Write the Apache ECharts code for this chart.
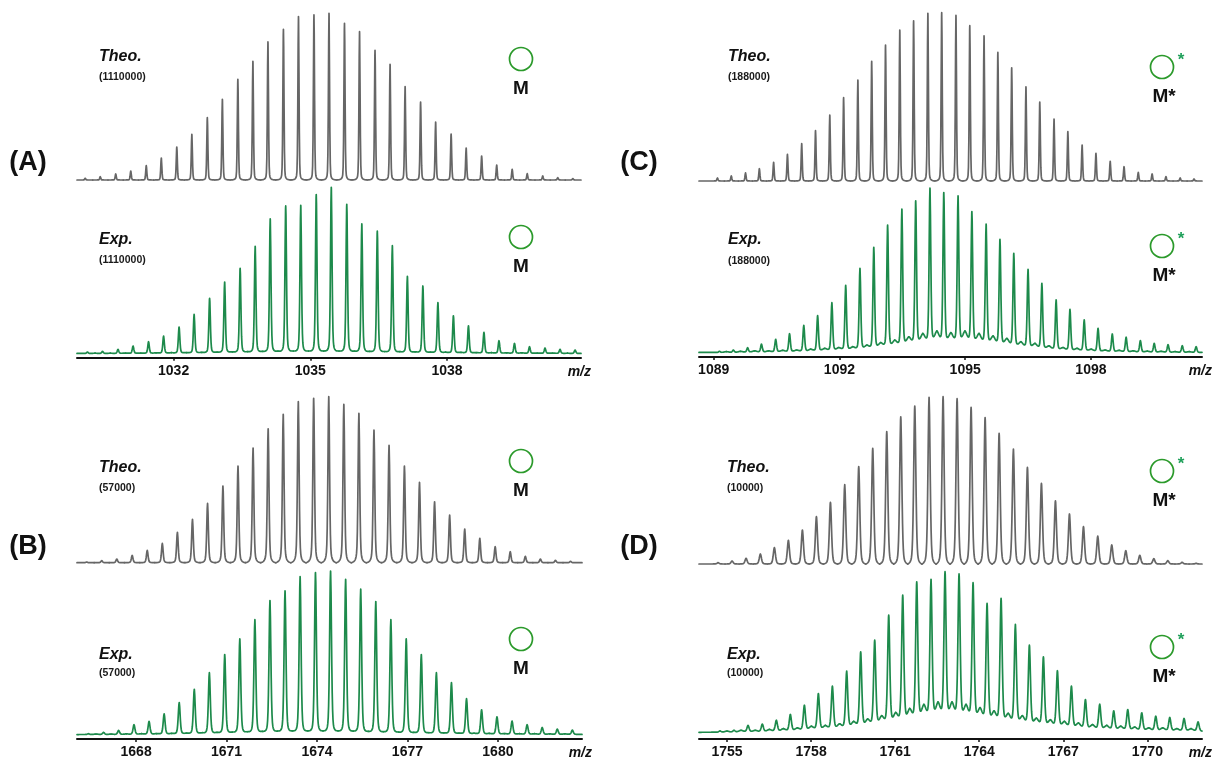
<!DOCTYPE html>
<html><head><meta charset="utf-8">
<script src="https://cdn.jsdelivr.net/npm/echarts@6/dist/echarts.min.js"></script>
<style>html,body{margin:0;padding:0;background:#fff}#c{width:1213px;height:760px}</style>
</head><body><div id="c"></div>
<script>
// ---------------- DATA ----------------
// Panel A (z = 3)
const rangeA = [1029.88, 1040.94];
const ticksA = [1032, 1035, 1038];
const mzTheoA = [1030.06,1030.39,1030.73,1031.06,1031.40,1031.73,1032.07,1032.40,1032.74,1033.07,1033.41,1033.74,1034.07,1034.41,1034.74,1035.08,1035.41,1035.75,1036.08,1036.42,1036.75,1037.08,1037.42,1037.75,1038.09,1038.42,1038.76,1039.09,1039.43,1039.76,1040.10,1040.43,1040.76];
const intTheoA = [1.0,2.0,3.6,5.4,8.6,13.2,19.8,27.4,37.4,48.4,60.4,71.2,82.8,90.4,98.0,99.0,100,94.0,89.0,77.8,69.4,56.0,46.8,34.8,27.6,19.2,14.4,9.0,6.4,3.8,2.4,1.4,0.8];
const mzExpA = [1030.11,1030.44,1030.78,1031.11,1031.45,1031.78,1032.12,1032.45,1032.79,1033.12,1033.46,1033.79,1034.12,1034.46,1034.79,1035.13,1035.46,1035.80,1036.13,1036.47,1036.80,1037.13,1037.47,1037.80,1038.14,1038.47,1038.81,1039.14,1039.48,1039.81,1040.15,1040.48,1040.81];
const intExpA = [1.0,1.4,2.6,4.6,7.2,10.6,16.0,23.6,33.3,43.1,51.3,64.5,81.0,88.8,89.2,95.6,100,89.8,78.0,73.7,64.9,46.5,40.7,30.7,22.8,16.8,12.8,7.8,6.2,4.2,3.4,2.6,2.2];
const bgExpA = [0.3,0.3,0.4,0.4,0.5,0.6,0.7,0.8,1.0,1.1,1.2,1.4,1.5,1.6,1.6,1.6,1.6,1.5,1.4,1.3,1.2,1.1,1.0,0.9,0.8,0.7,0.6,0.5,0.5,0.4,0.4,0.3];

// Panel B (z = 2)
const rangeB = [1666.04, 1682.79];
const ticksB = [1668, 1671, 1674, 1677, 1680];
const mzTheoB = [1666.36,1666.86,1667.36,1667.87,1668.37,1668.87,1669.37,1669.87,1670.37,1670.88,1671.38,1671.88,1672.38,1672.88,1673.38,1673.89,1674.39,1674.89,1675.39,1675.89,1676.39,1676.90,1677.40,1677.90,1678.40,1678.90,1679.40,1679.91,1680.41,1680.91,1681.41,1681.91,1682.41];
const intTheoB = [0.4,1.2,2.2,4.4,7.4,11.6,18.3,26.1,35.7,46.2,58.2,69.1,80.7,89.4,97.0,99.0,100,95.4,90.0,79.9,70.7,58.2,48.4,36.7,28.7,20.3,14.7,9.6,6.6,3.8,2.2,1.4,0.8];
const mzExpB = [1666.42,1666.92,1667.42,1667.93,1668.43,1668.93,1669.43,1669.93,1670.43,1670.94,1671.44,1671.94,1672.44,1672.94,1673.44,1673.95,1674.45,1674.95,1675.45,1675.95,1676.45,1676.96,1677.46,1677.96,1678.46,1678.96,1679.46,1679.97,1680.47,1680.97,1681.47,1681.97,1682.47];
const intExpB = [0.8,1.6,2.8,6.3,8.3,12.9,19.8,27.9,38.0,49.1,58.6,70.3,82.0,87.9,96.6,99.0,100,94.9,88.9,81.4,70.3,58.6,49.1,38.0,31.9,22.2,15.4,11.1,8.5,6.3,4.6,3.6,3.0];
const bgExpB = [0.6,0.6,0.7,0.8,0.9,1.0,1.2,1.4,1.6,1.8,2.0,2.2,2.4,2.5,2.5,2.5,2.5,2.4,2.2,2.0,1.8,1.6,1.4,1.3,1.2,1.1,1.0,0.9,0.8,0.8,0.7,0.7];

// Panel C (z = 3)
const rangeC = [1088.65, 1100.65];
const ticksC = [1089, 1092, 1095, 1098];
const mzTheoC = [1089.09,1089.42,1089.76,1090.09,1090.43,1090.76,1091.10,1091.43,1091.77,1092.10,1092.44,1092.77,1093.10,1093.44,1093.77,1094.11,1094.44,1094.78,1095.11,1095.45,1095.78,1096.11,1096.45,1096.78,1097.12,1097.45,1097.79,1098.12,1098.46,1098.79,1099.13,1099.46,1099.79,1100.13,1100.46];
const intTheoC = [1.8,3.0,4.8,7.3,11.1,15.8,22.2,29.9,39.2,49.5,60.0,71.1,80.8,89.7,95.2,99.6,100,98.4,92.3,86.3,76.4,67.3,56.0,46.9,36.8,29.3,21.4,16.4,11.7,8.5,5.1,4.2,2.6,1.8,1.2];
const mzExpC = [1089.14,1089.47,1089.81,1090.14,1090.48,1090.81,1091.15,1091.48,1091.82,1092.15,1092.49,1092.82,1093.15,1093.49,1093.82,1094.16,1094.49,1094.83,1095.16,1095.50,1095.83,1096.16,1096.50,1096.83,1097.17,1097.50,1097.84,1098.17,1098.51,1098.84,1099.18,1099.51,1099.84,1100.18,1100.51];
const intExpC = [1.2,2.0,3.4,5.6,8.5,11.9,16.9,22.8,30.6,41.1,51.4,64.1,77.6,87.3,92.3,100,97.2,95.2,85.7,78.2,69.0,60.5,50.8,42.3,32.3,26.6,20.2,15.1,11.7,9.7,7.7,6.0,5.2,4.6,4.0];
const bgExpC = [1.0,1.2,1.5,1.5,1.8,2.0,2.5,3.0,3.5,4.0,5.0,6.5,8.0,10.0,12.0,13.5,12.5,13.5,12.0,10.5,9.0,7.0,6.0,4.5,3.5,3.0,2.5,2.0,1.8,1.5,1.3,1.2,1.0,1.0];

// Panel D (z = 2)
const rangeD = [1754.0, 1771.95];
const ticksD = [1755, 1758, 1761, 1764, 1767, 1770];
const mzTheoD = [1754.68,1755.18,1755.68,1756.19,1756.69,1757.19,1757.69,1758.19,1758.69,1759.20,1759.70,1760.20,1760.70,1761.20,1761.70,1762.21,1762.71,1763.21,1763.71,1764.21,1764.71,1765.22,1765.72,1766.22,1766.72,1767.22,1767.72,1768.23,1768.73,1769.23,1769.73,1770.23,1770.73,1771.24,1771.74];
const intTheoD = [0.8,1.8,3.4,6.0,9.8,14.1,20.3,28.3,36.9,47.4,58.2,69.1,79.1,88.0,94.4,99.6,100,98.8,93.6,87.5,78.1,68.7,57.8,48.2,37.8,29.9,22.3,16.7,11.4,8.0,5.2,3.2,2.0,1.0,0.4];
const mzExpD = [1754.75,1755.25,1755.75,1756.26,1756.76,1757.26,1757.76,1758.26,1758.76,1759.27,1759.77,1760.27,1760.77,1761.27,1761.77,1762.28,1762.78,1763.28,1763.78,1764.28,1764.78,1765.29,1765.79,1766.29,1766.79,1767.29,1767.79,1768.30,1768.80,1769.30,1769.80,1770.30,1770.80,1771.31,1771.81];
const intExpD = [1.6,2.0,5.0,5.8,8.2,11.8,17.5,24.7,29.3,38.6,50.5,57.7,73.2,85.6,93.8,95.3,100,98.6,93.2,80.4,83.5,67.4,54.6,47.4,38.8,29.3,21.0,18.1,14.0,14.8,12.8,10.7,9.9,9.3,7.2];
const bgExpD = [1.5,2.0,2.0,2.5,3.0,3.5,4.5,5.0,6.0,7.5,9.0,11.0,13.0,15.5,18.0,19.5,19.5,18.0,16.0,14.0,12.5,11.0,9.5,8.5,7.5,6.5,5.5,5.0,4.5,4.0,3.5,3.5,3.0,3.0];

// Text labels
const panelLetters = {A:'(A)', B:'(B)', C:'(C)', D:'(D)'};
const resolutions = {A:'(1110000)', B:'(57000)', C:'(188000)', D:'(10000)'};
const speciesLabel = {A:'M', B:'M', C:'M*', D:'M*'};
const traceNames = {theo:'Theo.', exp:'Exp.'};
const axisName = 'm/z';

// ---------------- LAYOUT / STYLE ----------------
const FONT = "'Liberation Sans', Arial, Helvetica, sans-serif";
const GRAY = '#666666';
const GREEN = '#1d8a4b';
const RING = '#2b9a2b';
const STAR = '#1fa05a';
const INK = '#111111';

const layout = {
  A: {left:77, width:504, theo:{top:13.3, base:180}, exp:{top:187.3, base:353.7, axis:357.7},
      letter:[28,163], textX:99, ring:[521,59,237], star:false, sub:{theo:[57,77], exp:[240,260]}},
  B: {left:77, width:505, theo:{top:396.7, base:562.7}, exp:{top:571, base:736, axis:740},
      letter:[28,547], textX:99, ring:[521,461,639], star:false, sub:{theo:[468,488], exp:[655,673]}},
  C: {left:699, width:503, theo:{top:12.7, base:181}, exp:{top:188, base:353.3, axis:357},
      letter:[639,163], textX:728, ring:[1162,67,246], star:true, sub:{theo:[57,77], exp:[240,261]}},
  D: {left:699, width:503, theo:{top:396.7, base:564}, exp:{top:571.7, base:733.5, axis:739},
      letter:[639,547], textX:727, ring:[1162,471,647], star:true, sub:{theo:[468,488], exp:[655,673]}}
};

// peak shape (pixels): gaussian sigma, lorentz gamma, lorentz fraction
const shapes = {
  A: {theo:[0.55, 0.6, 0.3], exp:[0.75, 0.9, 0.35]},
  B: {theo:[0.8, 1.0, 0.4],  exp:[0.95, 1.1, 0.4]},
  C: {theo:[0.55, 0.6, 0.3], exp:[0.85, 0.9, 0.35]},
  D: {theo:[1.1, 1.2, 0.4],  exp:[1.1, 1.2, 0.4]}
};

const spectra = {
  A: {range:rangeA, ticks:ticksA, theo:[mzTheoA,intTheoA,null], exp:[mzExpA,intExpA,bgExpA]},
  B: {range:rangeB, ticks:ticksB, theo:[mzTheoB,intTheoB,null], exp:[mzExpB,intExpB,bgExpB]},
  C: {range:rangeC, ticks:ticksC, theo:[mzTheoC,intTheoC,null], exp:[mzExpC,intExpC,bgExpC]},
  D: {range:rangeD, ticks:ticksD, theo:[mzTheoD,intTheoD,null], exp:[mzExpD,intExpD,bgExpD]}
};

// Build custom-series items from the peak arrays
function buildItems(mz, inten, bg, range) {
  const out = [];
  const n = mz.length;
  for (let i = 0; i < n; i++) {
    const le = i === 0 ? range[0] : (mz[i-1] + mz[i]) / 2;
    const re = i === n - 1 ? range[1] : (mz[i] + mz[i+1]) / 2;
    let vl = 0, vr = 0;
    if (bg) {
      vl = i === 0 ? bg[0] * 0.5 : bg[i-1];
      vr = i === n - 1 ? bg[bg.length-1] * 0.5 : bg[i];
    }
    out.push([mz[i], inten[i], le, re, vl, vr, i === 0 ? 1 : 0, i === n - 1 ? 1 : 0]);
  }
  return out;
}

function makeRender(shape, color, lw) {
  const sig = shape[0], gam = shape[1], eta = shape[2];
  const F = 0.55, bumpW = 2.2;
  const prof = function (dx) {
    const d = dx / sig, l = dx / gam;
    return (1 - eta) * Math.exp(-0.5 * d * d) + eta / (1 + l * l);
  };
  return function (params, api) {
    const mz = api.value(0), h = api.value(1), le = api.value(2), re = api.value(3);
    const vl = api.value(4), vr = api.value(5), fL = api.value(6), fR = api.value(7);
    const p0 = api.coord([mz, 0]);
    const cx = p0[0], y0 = p0[1];
    const k = api.size([0, 1])[1];
    const xl = api.coord([le, 0])[0], xr = api.coord([re, 0])[0];
    const gL = prof(xl - cx), gR = prof(xr - cx);
    const xs = [];
    for (let x = xl; x < xr; x += 0.4) xs.push(x);
    xs.push(xr); xs.push(cx);
    xs.sort((a, b) => a - b);
    const pts = [];
    for (const x of xs) {
      const bl = fL ? vl : vl * (F + (1 - F) * Math.exp(-0.5 * Math.pow((x - xl) / bumpW, 2)));
      const br = fR ? vr : vr * (F + (1 - F) * Math.exp(-0.5 * Math.pow((x - xr) / bumpW, 2)));
      const t = (xr - xl) > 0 ? (x - xl) / (xr - xl) : 0;
      const b = (1 - t) * bl + t * br;
      const gE = x < cx ? gL : gR;
      let g = (prof(x - cx) - gE) / (1 - gE);
      if (g < 0) g = 0;
      const v = b * (1 - g) + h * g;
      pts.push([x, y0 - v * k]);
    }
    return {type:'polyline', silent:true, shape:{points:pts},
            style:{stroke:color, lineWidth:lw, fill:null, lineJoin:'round', lineCap:'round'}};
  };
}

const grids = [], xAxes = [], yAxes = [], series = [], graphics = [];
let gi = 0;
['A','B','C','D'].forEach(function (key) {
  const L = layout[key], S = spectra[key];
  ['theo','exp'].forEach(function (kind) {
    const g = L[kind];
    let top = g.top, height, ymin;
    if (kind === 'theo') { height = g.base - g.top; ymin = 0; }
    else { height = g.axis - g.top; ymin = -(g.axis - g.base) / (g.base - g.top) * 100; }
    grids.push({left:L.left, width:L.width, top:top, height:height, containLabel:false});
    const xa = {gridIndex:gi, type:'value', min:S.range[0], max:S.range[1], splitLine:{show:false}};
    if (kind === 'theo') {
      xa.show = false;
    } else {
      Object.assign(xa, {
        axisLine:{show:true, onZero:false, lineStyle:{color:INK, width:2}},
        axisTick:{show:true, length:3, customValues:S.ticks, lineStyle:{color:INK, width:1.5}},
        axisLabel:{show:true, customValues:S.ticks, margin:6, color:INK, fontFamily:FONT,
                   fontSize:14, fontWeight:'bold', formatter:function (v) { return String(v); }},
        name:axisName, nameLocation:'end', nameGap:10,
        nameTextStyle:{color:INK, fontFamily:FONT, fontSize:14, fontWeight:'bold', fontStyle:'italic',
                       align:'right', verticalAlign:'top', padding:[7,0,0,0]}
      });
    }
    xAxes.push(xa);
    yAxes.push({gridIndex:gi, type:'value', min:ymin, max:100, show:false});
    const arr = S[kind];
    series.push({
      type:'custom', name:key + ' ' + kind, xAxisIndex:gi, yAxisIndex:gi,
      renderItem:makeRender(shapes[key][kind], kind === 'theo' ? GRAY : GREEN, 1.7),
      data:buildItems(arr[0], arr[1], arr[2], S.range),
      encode:{x:0, y:1}, animation:false, silent:true
    });
    graphics.push({type:'text', x:L.textX, y:L.sub[kind][0], silent:true,
      style:{text:traceNames[kind], fill:INK, fontFamily:FONT, fontSize:16, fontWeight:'bold',
             fontStyle:'italic', align:'left', verticalAlign:'middle'}});
    graphics.push({type:'text', x:L.textX, y:L.sub[kind][1], silent:true,
      style:{text:resolutions[key], fill:'#1a1a1a', fontFamily:FONT, fontSize:10.5, fontWeight:'bold',
             align:'left', verticalAlign:'middle'}});
    const ry = kind === 'theo' ? L.ring[1] : L.ring[2];
    graphics.push({type:'circle', silent:true, shape:{cx:L.ring[0], cy:ry, r:11.5},
      style:{fill:null, stroke:RING, lineWidth:1.7}});
    graphics.push({type:'text', x:L.ring[0] + (L.star ? 2 : 0), y:ry + 30, silent:true,
      style:{text:speciesLabel[key], fill:INK, fontFamily:FONT, fontSize:19, fontWeight:'bold',
             align:'center', verticalAlign:'middle'}});
    if (L.star) {
      graphics.push({type:'text', x:L.ring[0] + 19, y:ry - 7, silent:true,
        style:{text:'*', fill:STAR, fontFamily:FONT, fontSize:17, fontWeight:'bold',
               align:'center', verticalAlign:'middle'}});
    }
    gi++;
  });
  graphics.push({type:'text', x:L.letter[0], y:L.letter[1], silent:true,
    style:{text:panelLetters[key], fill:INK, fontFamily:FONT, fontSize:27, fontWeight:'bold',
           align:'center', verticalAlign:'middle'}});
});

const chart = echarts.init(document.getElementById('c'), null, {renderer:'canvas'});
chart.setOption({
  animation:false,
  backgroundColor:'#ffffff',
  grid:grids, xAxis:xAxes, yAxis:yAxes, series:series,
  graphic:{elements:graphics}
});
</script>
</body></html>
